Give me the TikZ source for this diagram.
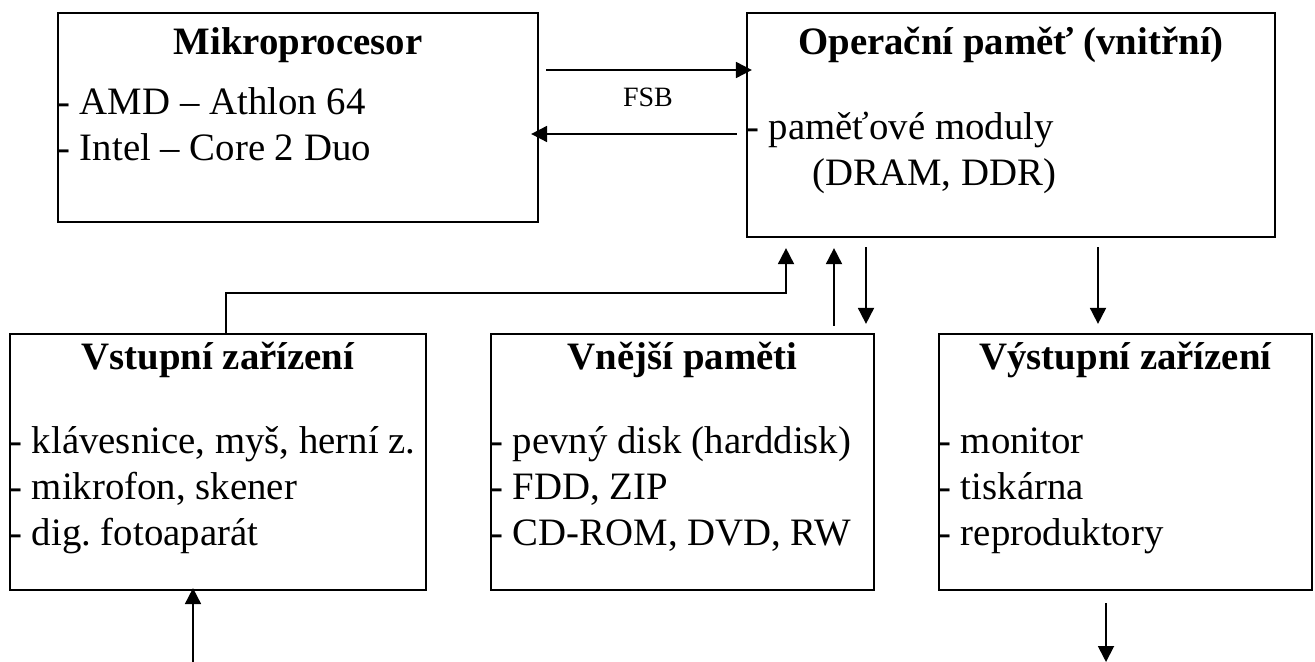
\documentclass[tikz,border=0pt]{standalone}
\usepackage{fontspec}
\setmainfont{Liberation Serif}
\usetikzlibrary{arrows.meta,fit,positioning}
\frenchspacing

\tikzset{
  box/.style={draw, line width=1.1pt, inner sep=0pt},
  title/.style={font=\fontsize{19.4}{23}\selectfont\bfseries, inner sep=0pt, anchor=base},
  item/.style={font=\fontsize{19.4}{23}\selectfont, inner sep=0pt, anchor=base west},
  arr/.style={line width=0.9pt, -{Triangle[length=8pt,width=8pt]}}
}

\begin{document}
\begin{tikzpicture}[x=0.5pt,y=-0.5pt]
\useasboundingbox (0,0) rectangle (1315,662);
% boxes
\node[box, fit={(58,13) (538,222)}] (cpu) {};
\node[box, fit={(747,13) (1275,237)}] (ope) {};
\node[box, fit={(10,334) (426,590)}] (vstup) {};
\node[box, fit={(491,334) (874,590)}] (vnejsi) {};
\node[box, fit={(939,334) (1312,590)}] (vystup) {};
% texts
\node[title] (cpuT) at (cpu.north |- 0,55) {Mikroprocesor};
\node[item] (cpu1) at (cpu.west |- 0,115) {- AMD – Athlon 64};
\node[item] (cpu2) at (cpu.west |- 0,161) {- Intel – Core 2 Duo};
\node[title] (opeT) at (ope.north |- 0,55) {Operační paměť (vnitřní)};
\node[item] (ope1) at (ope.west |- 0,140) {- paměťové moduly};
\node[item] (ope2) at (812,186) {(DRAM, DDR)};
\node[title] (vstupT) at (vstup.north |- 0,369) {Vstupní zařízení};
\node[item] (vstup1) at (vstup.west |- 0,453) {- klávesnice, myš, herní z.};
\node[item] (vstup2) at (vstup.west |- 0,499) {- mikrofon, skener};
\node[item] (vstup3) at (vstup.west |- 0,545) {- dig. fotoaparát};
\node[title] (vnejsiT) at (vnejsi.north |- 0,369) {Vnější paměti};
\node[item] (vnejsi1) at (vnejsi.west |- 0,453) {- pevný disk (harddisk)};
\node[item] (vnejsi2) at (vnejsi.west |- 0,499) {- FDD, ZIP};
\node[item] (vnejsi3) at (vnejsi.west |- 0,545) {- CD-ROM, DVD, RW};
\node[title] (vystupT) at (vystup.north |- 0,369) {Výstupní zařízení};
\node[item] (vystup1) at (vystup.west |- 0,453) {- monitor};
\node[item] (vystup2) at (vystup.west |- 0,499) {- tiskárna};
\node[item] (vystup3) at (vystup.west |- 0,545) {- reproduktory};
\node[font=\fontsize{14}{16}\selectfont] (fsb) at (648,97) {FSB};
% connectors
\draw[arr, shorten >=-3pt] (cpu.east |- 0,70) ++(7,0) -- (ope.west |- 0,70);
\draw[arr, shorten >=-4pt] (ope.west |- 0,134) ++(-9,0) -- (cpu.east |- 0,134);
\draw[arr, shorten >=5pt] (vstup.north -| 226,0) |- (786,293) -- (ope.south -| 786,0);
\draw[arr, shorten <=3.5pt, shorten >=5pt] (vnejsi.north -| 834,0) -- (ope.south -| 834,0);
\draw[arr, shorten <=4.5pt, shorten >=4.5pt] (ope.south -| 866,0) -- (vnejsi.north -| 866,0);
\draw[arr, shorten <=4.5pt, shorten >=4.5pt] (ope.south -| 1098,0) -- (vystup.north -| 1098,0);
\coordinate (inSrc) at (193,662);
\coordinate (outDst) at (1106,662);
\draw[arr, shorten >=-1.5pt] (inSrc) -- (vstup.south -| inSrc);
\draw[arr, shorten <=6pt] (vystup.south -| outDst) -- (outDst);
\end{tikzpicture}
\end{document}
